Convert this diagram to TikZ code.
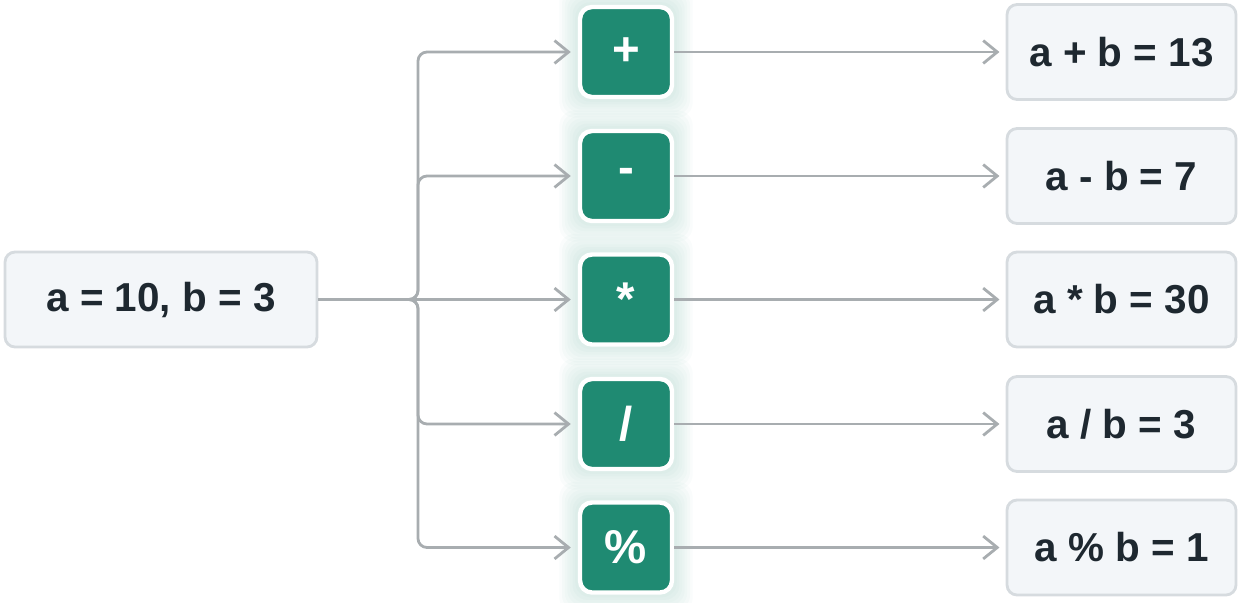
\documentclass[tikz,border=0pt]{standalone}
\usepackage{fontspec}
\setmainfont{Liberation Sans}
\usepackage{tikz}
\usetikzlibrary{arrows.meta,backgrounds}

\definecolor{opgreen}{HTML}{1F8A72}
\definecolor{boxfill}{HTML}{F3F6F9}
\definecolor{boxline}{HTML}{D6DBDF}
\definecolor{linegray}{HTML}{A8ADB0}
\definecolor{textdark}{HTML}{1E2830}

\tikzset{
    valbox/.style={draw=boxline, line width=1.6pt, fill=boxfill,
        rounded corners=0.2cm, minimum height=1.9cm,
        font=\fontsize{23}{26}\selectfont\bfseries, text=textdark},
    opbox/.style={draw=white, line width=2.5pt, fill=opgreen,
        rounded corners=0.24cm, minimum width=1.84cm, minimum height=1.8cm,
        font=\fontsize{27}{29}\selectfont\bfseries, text=white},
    glow/.style={fill=opgreen, fill opacity=0.022, rounded corners=0.3cm},
    conn/.style={draw=linegray, line width=1.6pt, rounded corners=0.18cm,
        -{Straight Barb[length=8pt,width=13pt,line width=1.6pt]}}
}

\begin{document}
\begin{tikzpicture}[x=0.02cm,y=-0.02cm]
                \useasboundingbox (0,0) rectangle (1240,602);
                % input
                \node[valbox, minimum width=6.24cm] (in)
                    at (161,299.5) {a = 10, b = 3};
                \coordinate (trunk) at (418,299.5);
                % operators
                \node[opbox] (add) at (626,52) {+};
                \node[opbox] (sub) at (626,176) {-};
                \node[opbox] (mul) at (626,299.5) {*};
                \node[opbox] (div) at (626,424) {/};
                \node[opbox] (mod) at (626,547.5) {\%};
                % results
                \node[valbox, minimum width=4.58cm] (radd)
                    at (1121.5,52) {a + b = 13};
                \node[valbox, minimum width=4.58cm] (rsub)
                    at (1121.5,176) {a - b = 7};
                \node[valbox, minimum width=4.58cm] (rmul)
                    at (1121.5,299.5) {a * b = 30};
                \node[valbox, minimum width=4.58cm] (rdiv)
                    at (1121.5,424) {a / b = 3};
                \node[valbox, minimum width=4.58cm] (rmod)
                    at (1121.5,547.5) {a \% b = 1};
                % soft glow behind the operators
                \begin{scope}[on background layer]
                    \foreach \op in {add,sub,mul,div,mod}
                        \foreach \r in {1.5,3,...,10.5}
                            \path[glow] ([xshift=-\r pt,yshift=-\r pt]\op.south west)
                                rectangle ([xshift=\r pt,yshift=\r pt]\op.north east);
                \end{scope}
                % branches
                \draw[conn, shorten >=4pt] (in.east) -- (mul.west);
                \foreach \op in {add,sub,div,mod}
                    \draw[conn, shorten >=4pt] (in.east) -- (trunk) |- (\op.west);
                \foreach \op/\res in {add/radd,sub/rsub,mul/rmul,div/rdiv,mod/rmod}
                    \draw[conn, shorten >=3.5pt] (\op.east) -- (\res.west);
            \end{tikzpicture}
\end{document}
